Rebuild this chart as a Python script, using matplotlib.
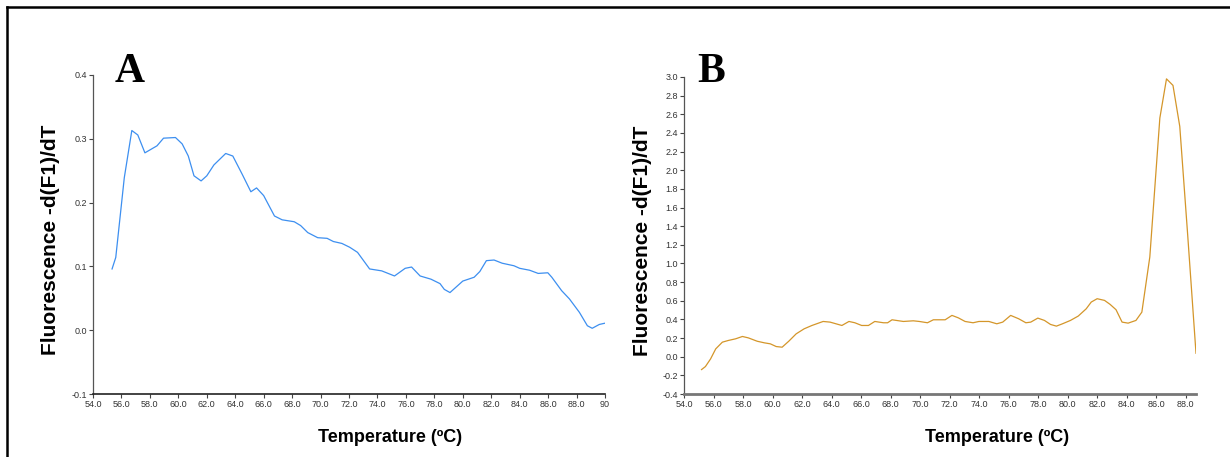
import numpy as np
import matplotlib
matplotlib.use('Agg')
from matplotlib import pyplot as plt
from matplotlib.lines import Line2D

# panel A melt curve
temp_a = [55.34, 55.6, 56.2, 56.73, 57.15, 57.65, 58.5, 58.96, 59.8, 60.27, 60.7, 61.1,
          61.6, 62.0, 62.5, 63.33, 63.83, 64.5, 65.1, 65.5, 66.0, 66.76, 67.3, 68.15,
          68.6, 69.1, 69.8, 70.46, 70.9, 71.5, 72.05, 72.6, 73.45, 74.3, 75.2, 75.95,
          76.4, 77.0, 77.76, 78.4, 78.7, 79.1, 80.0, 80.8, 81.2, 81.66, 82.2, 82.77,
          83.6, 84.0, 84.7, 85.3, 85.98, 86.26, 86.95, 87.5, 88.2, 88.76, 89.1, 89.6, 90.0]
fluo_a = [0.096, 0.114, 0.239, 0.313, 0.306, 0.278, 0.289, 0.301, 0.302, 0.292, 0.273, 0.242,
          0.234, 0.242, 0.259, 0.277, 0.273, 0.244, 0.217, 0.223, 0.211, 0.179, 0.173, 0.170,
          0.164, 0.153, 0.145, 0.144, 0.139, 0.136, 0.130, 0.122, 0.096, 0.093, 0.085, 0.097,
          0.099, 0.085, 0.080, 0.073, 0.064, 0.059, 0.077, 0.083, 0.092, 0.109, 0.110, 0.105,
          0.101, 0.097, 0.094, 0.089, 0.090, 0.083, 0.062, 0.049, 0.028, 0.007, 0.003, 0.009, 0.011]

# panel B melt curve
temp_b = [55.19, 55.45, 55.8, 56.15, 56.6, 57.0, 57.5, 57.96, 58.36, 58.96, 59.44, 59.85,
          60.25, 60.65, 61.1, 61.6, 62.14, 62.67, 63.43, 63.9, 64.7, 65.18, 65.58, 66.04,
          66.5, 66.93, 67.52, 67.8, 68.1, 68.87, 69.54, 69.95, 70.5, 70.9, 71.7, 72.16,
          72.59, 73.05, 73.59, 73.99, 74.66, 75.2, 75.6, 76.14, 76.68, 77.17, 77.5, 77.98,
          78.43, 78.84, 79.24, 79.65, 80.19, 80.72, 81.26, 81.6, 82.0, 82.5, 82.88, 83.28,
          83.69, 84.1, 84.63, 85.03, 85.57, 86.25, 86.7, 87.14, 87.6, 88.13, 88.7]
fluo_b = [-0.138, -0.106, -0.024, 0.084, 0.156, 0.174, 0.192, 0.217, 0.202, 0.166, 0.149, 0.138,
          0.109, 0.102, 0.166, 0.245, 0.299, 0.335, 0.378, 0.371, 0.335, 0.378, 0.364, 0.335,
          0.335, 0.378, 0.364, 0.364, 0.396, 0.378, 0.385, 0.378, 0.364, 0.396, 0.396, 0.443,
          0.417, 0.378, 0.364, 0.378, 0.378, 0.353, 0.371, 0.443, 0.407, 0.364, 0.371, 0.414,
          0.389, 0.346, 0.328, 0.353, 0.389, 0.436, 0.514, 0.586, 0.622, 0.604, 0.561, 0.504,
          0.371, 0.360, 0.389, 0.478, 1.07, 2.56, 2.98, 2.91, 2.47, 1.32, 0.037]

xticks_a = np.arange(54, 91, 2)
xlabels_a = ['%.1f' % t for t in xticks_a[:-1]] + ['90']
yticks_a = [-0.1, 0.0, 0.1, 0.2, 0.3, 0.4]
xticks_b = np.arange(54, 89, 2)
yticks_b = np.round(np.arange(-0.4, 3.01, 0.2), 1)

W, H = 1230, 457
fig = plt.figure(figsize=(W / 100, H / 100), dpi=100)

def style(ax, bottom_color, bottom_lw):
    for s in ['top', 'right']:
        ax.spines[s].set_visible(False)
    ax.spines['left'].set_color('#555555')
    ax.spines['left'].set_linewidth(0.9)
    ax.spines['bottom'].set_color(bottom_color)
    ax.spines['bottom'].set_linewidth(bottom_lw)
    ax.tick_params(direction='out', length=3, width=0.8, colors='#444444',
                   labelsize=6.5, pad=1.5, labelcolor='#333333')
    for lab in ax.get_xticklabels() + ax.get_yticklabels():
        lab.set_family('Liberation Sans')

ax_a = fig.add_axes([93 / W, 1 - 394 / H, (605 - 93) / W, (394 - 75) / H])
ax_a.plot(temp_a, fluo_a, color='#3d8ff0', lw=0.9)
ax_a.set_xlim(54, 90)
ax_a.set_ylim(-0.1, 0.4)
ax_a.set_xticks(xticks_a, xlabels_a)
ax_a.set_yticks(yticks_a, ['%.1f' % v for v in yticks_a])
style(ax_a, '#222222', 1.2)

ax_b = fig.add_axes([684 / W, 1 - 394 / H, (1196 - 684) / W, (394 - 77) / H])
ax_b.plot(temp_b, fluo_b, color='#d4962a', lw=0.9)
ax_b.set_xlim(54, 88.7)
ax_b.set_ylim(-0.4, 3.0)
ax_b.set_xticks(xticks_b, ['%.1f' % t for t in xticks_b])
ax_b.set_yticks(yticks_b, ['%.1f' % v for v in yticks_b])
style(ax_b, '#777777', 2.0)

ylab = 'Fluorescence -d(F1)/dT'
xlab = 'Temperature (\u00baC)'
for xc, yc in [(51, 240), (642, 241)]:
    fig.text(xc / W, 1 - yc / H, ylab, rotation=90, ha='center', va='center',
             fontsize=15, fontweight='bold', family=['Liberation Sans', 'DejaVu Sans'])
for xc in [390, 997]:
    fig.text(xc / W, 1 - 438 / H, xlab, ha='center', va='center', fontsize=13,
             fontweight='bold', family=['Liberation Sans Narrow', 'Liberation Sans'])

for xl, letter in [(115, 'A'), (697, 'B')]:
    fig.text(xl / W, 1 - 82 / H, letter, ha='left', va='baseline', fontsize=30,
             fontweight='bold', family=['Liberation Serif', 'DejaVu Serif'])

# outer frame, left and top edges only
fig.add_artist(Line2D([7 / W, 7 / W], [0, 1 - 7 / H], color='black', lw=1.8,
                      transform=fig.transFigure))
fig.add_artist(Line2D([7 / W, 1], [1 - 7 / H, 1 - 7 / H], color='black', lw=1.8,
                      transform=fig.transFigure))

fig.savefig('out.png', dpi=100)
